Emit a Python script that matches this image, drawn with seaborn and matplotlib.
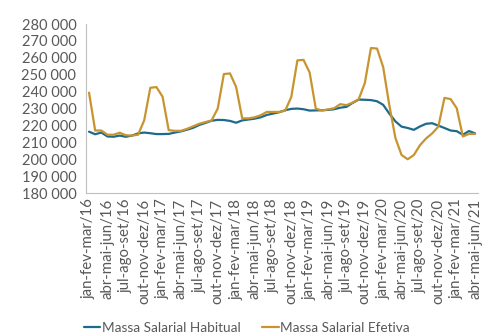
import numpy as np
import pandas as pd
import seaborn as sns
import matplotlib.pyplot as plt
from matplotlib.ticker import FuncFormatter, FixedLocator

# DATA
months = ["jan", "fev", "mar", "abr", "mai", "jun",
          "jul", "ago", "set", "out", "nov", "dez"]

# rolling quarters jan-fev-mar/16 ... abr-mai-jun/21
periods = []
for year in range(2016, 2022):
    for m in range(12):
        if (year == 2016 and m < 2) or (year == 2021 and m > 5):
            continue
        periods.append(f"{months[m-2]}-{months[m-1]}-{months[m]}/{str(year)[2:]}")

habitual = [
    216.3, 214.8, 215.8, 213.5, 213.3, 214.0, 213.3, 214.0, 215.3, 215.8,
    215.4, 214.9, 214.9, 215.0, 215.8, 216.5, 217.5, 218.6, 220.3, 221.5,
    222.8, 223.3, 223.2, 222.7, 221.6, 223.0, 223.5, 224.0, 224.8, 226.2,
    227.0, 227.8, 229.0, 229.8, 230.0, 229.6, 228.8, 228.9, 229.0, 229.2,
    229.6, 230.5, 231.0, 233.3, 235.3, 235.2, 235.0, 234.3, 232.2, 227.0,
    222.4, 219.3, 218.5, 217.4, 219.4, 221.0, 221.3, 219.9, 218.5, 217.0,
    216.6, 214.5, 216.7, 215.3,
]

efetiva = [
    239.4, 217.0, 217.0, 214.5, 214.5, 215.7, 214.2, 214.0, 214.5, 223.0,
    242.3, 242.7, 237.0, 217.2, 216.8, 216.8, 218.0, 219.5, 221.0, 222.0,
    223.0, 230.0, 250.4, 250.8, 242.8, 224.2, 224.2, 224.8, 226.0, 228.0,
    228.0, 228.0, 228.7, 236.8, 258.5, 258.8, 251.3, 230.0, 228.8, 229.5,
    230.2, 232.6, 232.0, 233.5, 235.5, 245.0, 265.8, 265.5, 254.5, 232.0,
    212.5, 202.5, 200.0, 202.5, 208.3, 212.3, 215.3, 219.3, 236.3, 235.6,
    230.2, 213.5, 215.0, 215.0,
]

series_names = ["Massa Salarial Habitual", "Massa Salarial Efetiva"]
colors = ["#1d6b8c", "#c8942f"]

df = pd.DataFrame({
    "idx": list(range(len(periods))) * 2,
    "valor": [v * 1000 for v in habitual + efetiva],
    "serie": [series_names[0]] * len(habitual) + [series_names[1]] * len(efetiva),
})

# PLOT
sns.set_style("white")
plt.rcParams["font.family"] = ["Lato", "DejaVu Sans"]
text_color = "#595959"

fig = plt.figure(figsize=(4.83, 3.34), dpi=100)
ax = fig.add_axes([0.178, 0.422, 0.812, 0.506])

sns.lineplot(data=df, x="idx", y="valor", hue="serie", hue_order=series_names,
             palette=colors, linewidth=1.6, ax=ax)

ax.set_ylim(180000, 280000)
ax.set_xlim(-0.5, len(periods) - 0.5)
ax.set_yticks(np.arange(180000, 280001, 10000))
ax.yaxis.set_major_formatter(FuncFormatter(lambda v, p: f"{int(v):,}".replace(",", " ")))

ax.set_xticks(range(0, len(periods), 3))
ax.set_xticklabels(periods[::3], rotation=90)
ax.xaxis.set_minor_locator(FixedLocator(np.arange(-0.5, len(periods), 3)))

ax.tick_params(axis="x", which="major", length=0, pad=4, labelsize=10.8, colors=text_color)
ax.tick_params(axis="x", which="minor", length=4, color="#bfbfbf", direction="out")
ax.tick_params(axis="y", length=5, labelsize=10.5, colors=text_color, pad=2)
ax.tick_params(axis="y", color="#bfbfbf")

for s in ["top", "right"]:
    ax.spines[s].set_visible(False)
for s in ["left", "bottom"]:
    ax.spines[s].set_color("#bfbfbf")
ax.set_xlabel("")
ax.set_ylabel("")

handles, labels = ax.get_legend_handles_labels()
ax.legend(handles, labels, loc="center", bbox_to_anchor=(0.41, -0.8),
          ncol=2, frameon=False, fontsize=9.8, handlelength=1.2, handletextpad=0.1,
          columnspacing=1.6, labelcolor=text_color, borderpad=0)

fig.savefig("out.png", dpi=100)
